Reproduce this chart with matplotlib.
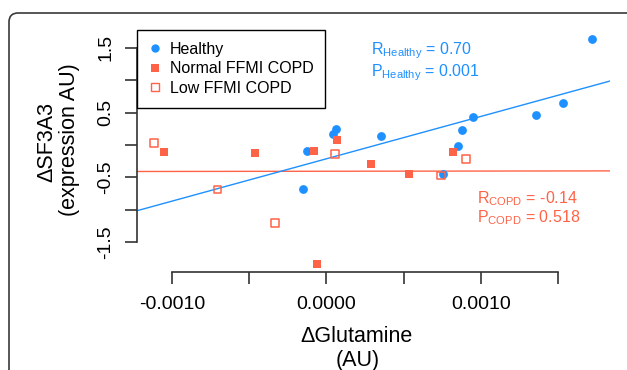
import numpy as np
import matplotlib
matplotlib.use("Agg")
import matplotlib.pyplot as plt
from matplotlib.lines import Line2D
from matplotlib.patches import FancyBboxPatch
from matplotlib.transforms import IdentityTransform

plt.rcParams['font.family'] = ['Liberation Sans', 'DejaVu Sans']
plt.rcParams['mathtext.fontset'] = 'custom'
plt.rcParams['mathtext.rm'] = 'Liberation Sans'

# ---- data ----
healthy_x = [1.718e-3, 1.531e-3, 1.356e-3, 0.948e-3, 0.877e-3, 0.851e-3,
             0.754e-3, 0.353e-3, 0.061e-3, 0.042e-3, -0.126e-3, -0.152e-3]
healthy_y = [1.637, 0.648, 0.462, 0.431, 0.230, -0.017,
             -0.450, 0.138, 0.246, 0.168, -0.094, -0.682]

normal_x = [-1.052e-3, -0.463e-3, -0.084e-3, 0.068e-3, 0.285e-3, 0.534e-3,
            0.822e-3, -0.061e-3]
normal_y = [-0.102, -0.125, -0.087, 0.076, -0.295, -0.450, -0.110, -1.841]

low_x = [-1.117e-3, -0.706e-3, -0.333e-3, 0.055e-3, 0.741e-3, 0.903e-3]
low_y = [0.029, -0.689, -1.207, -0.141, -0.473, -0.218]

healthy_fit = (-0.214, 654.8)   # intercept, slope
copd_fit = (-0.407, 3.0)

x_ticks = [-0.0010, -0.0005, 0.0000, 0.0005, 0.0010, 0.0015]
x_ticklabels = ['-0.0010', '', '0.0000', '', '0.0010', '']
y_ticks = [-1.5, -1.0, -0.5, 0.0, 0.5, 1.0, 1.5]
y_ticklabels = ['-1.5', '', '-0.5', '', '0.5', '', '1.5']

series_labels = ['Healthy', 'Normal FFMI COPD', 'Low FFMI COPD']
stat_healthy = [r'$\mathrm{R_{Healthy}}$ = 0.70', r'$\mathrm{P_{Healthy}}$ = 0.001']
stat_copd = [r'$\mathrm{R_{COPD}}$ = -0.14', r'$\mathrm{P_{COPD}}$ = 0.518']

BLUE = '#1E90FF'
RED = '#FF6347'
AX = '#333333'

W, H = 627, 370
fig = plt.figure(figsize=(W / 100, H / 100), dpi=100)

def fx(px):
    return px / W

def fy(py):
    return 1 - py / H

# outer rounded frame
frame = FancyBboxPatch((9, -100), 1000, H - 13 + 100,
                       boxstyle="round,pad=0,rounding_size=9",
                       transform=IdentityTransform(), fill=False,
                       edgecolor='#3a3a3a', linewidth=1.2, clip_on=False)
fig.add_artist(frame)

ax = fig.add_axes([fx(137), fy(272), fx(610 - 137), (272 - 30) / H])
ax.set_xlim(-0.0012265, 0.001835)
ax.set_ylim(-1.964, 1.776)

ax.axline((0, copd_fit[0]), slope=copd_fit[1], color=RED, lw=1.0, zorder=2)
ax.axline((0, healthy_fit[0]), slope=healthy_fit[1], color=BLUE, lw=1.0, zorder=2)

ax.scatter(healthy_x, healthy_y, s=40, marker='o', color=BLUE, lw=0, zorder=3)
ax.scatter(normal_x, normal_y, s=36, marker='s', color=RED, lw=0, zorder=3)
ax.scatter(low_x, low_y, s=30, marker='s', facecolors='none',
           edgecolors=RED, linewidths=1.1, zorder=3)

for s in ['top', 'right']:
    ax.spines[s].set_visible(False)
ax.spines['left'].set_bounds(-1.5, 1.5)
ax.spines['bottom'].set_bounds(-0.001, 0.0015)
for s in ['left', 'bottom']:
    ax.spines[s].set_color(AX)
    ax.spines[s].set_linewidth(1.2)

ax.set_xticks(x_ticks)
ax.set_xticklabels(x_ticklabels)
ax.set_yticks(y_ticks)
ax.set_yticklabels(y_ticklabels, rotation=90, va='center')
ax.tick_params(axis='both', length=8.3, width=1.2, color=AX, labelsize=14,
               labelcolor='black')
ax.tick_params(axis='x', pad=9)
ax.tick_params(axis='y', pad=8)

handles = [
    Line2D([], [], marker='o', ls='none', color=BLUE, markersize=6, mew=0),
    Line2D([], [], marker='s', ls='none', color=RED, markersize=6, mew=0),
    Line2D([], [], marker='s', ls='none', markerfacecolor='none',
           markeredgecolor=RED, markersize=5.5, mew=1.0),
]
leg = ax.legend(handles, series_labels, loc='upper left', bbox_to_anchor=(0, 1),
                borderaxespad=0, fancybox=False, framealpha=1, edgecolor='black',
                fontsize=11.5, handlelength=0.8, handletextpad=0.5,
                borderpad=0.75, labelspacing=0.28)
leg.get_frame().set_linewidth(1.0)

# statistics annotations (two lines each; baseline = last line)
fig.text(fx(371), fy(76), '\n'.join(stat_healthy), color=BLUE, fontsize=11.5,
         va='baseline', linespacing=1.05)
fig.text(fx(477), fy(222.7), '\n'.join(stat_copd), color=RED, fontsize=11.5,
         va='baseline', linespacing=1.05)

# axis titles
fig.text(fx(52), fy(142), 'ΔSF3A3', rotation=90, rotation_mode='anchor',
         ha='center', va='baseline', fontsize=15.5)
fig.text(fx(75), fy(140), '(expression AU)', rotation=90, rotation_mode='anchor',
         ha='center', va='baseline', fontsize=15.5)
fig.text(fx(356.5), fy(342), 'ΔGlutamine', ha='center', va='baseline', fontsize=15.5)
fig.text(fx(357.5), fy(366), '(AU)', ha='center', va='baseline', fontsize=15.5)

fig.savefig('out.png', dpi=100)
